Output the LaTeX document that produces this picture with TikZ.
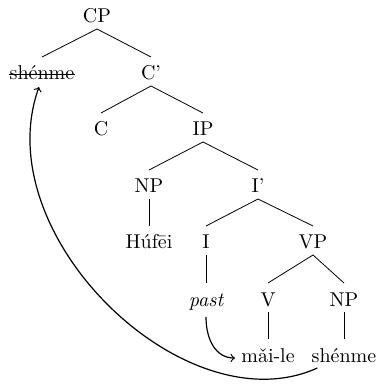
\documentclass[tikz,border=0pt]{standalone}
\begin{document}
\begin{tikzpicture}[x=0.5pt,y=-0.5pt,
  lab/.style={anchor=base, inner sep=0pt},
  branch/.style={line width=0.4pt},
  mv/.style={->, line width=0.6pt}]
\useasboundingbox (0,0) rectangle (377,384);
\node[lab] (cp)  at (97,23)  {CP};
\node[lab] (sh1) at (42,80)  {shénme};
\node[lab] (cb)  at (151,80) {C’};
\node[lab] (c)   at (101,136) {C};
\node[lab] (ip)  at (203,136) {IP};
\node[lab] (np1) at (149,193) {NP};
\node[lab] (ib)  at (258,193) {I’};
\node[lab] (hf)  at (149,249) {Húfēi};
\node[lab] (i)   at (206,249) {I};
\node[lab] (vp)  at (313,249) {VP};
\node[lab] (past) at (206,306) {\itshape past};
\node[lab] (v)   at (268,306) {V};
\node[lab] (np2) at (344,306) {NP};
\node[lab] (ml)  at (268,362) {mǎi-le};
\node[lab] (sh2) at (344,362) {shénme};
\newcommand\branchto[2]{\draw[branch] ([yshift=-3pt]#1.base) -- ([yshift=11.5pt]#2.base);}
\branchto{cp}{sh1}
\branchto{cp}{cb}
\branchto{cb}{c}
\branchto{cb}{ip}
\branchto{ip}{np1}
\branchto{ip}{ib}
\branchto{np1}{hf}
\branchto{ib}{i}
\branchto{ib}{vp}
\branchto{i}{past}
\branchto{vp}{v}
\branchto{vp}{np2}
\branchto{v}{ml}
\branchto{np2}{sh2}
% strike-through
\draw[line width=0.4pt] ([yshift=3pt]sh1.base west) -- ([yshift=3pt]sh1.base east);
% movement arrows
\draw[mv] ([yshift=-5.5pt]past.base) .. controls (206,340) and (216,358) .. ([xshift=-3pt,yshift=2pt]ml.base west);
\draw[mv] ([xshift=3pt,yshift=-3pt]sh2.base west) .. controls (185,428) and (-14,235) .. ([xshift=-1.5pt,yshift=-3.5pt]sh1.base);
\end{tikzpicture}
\end{document}
